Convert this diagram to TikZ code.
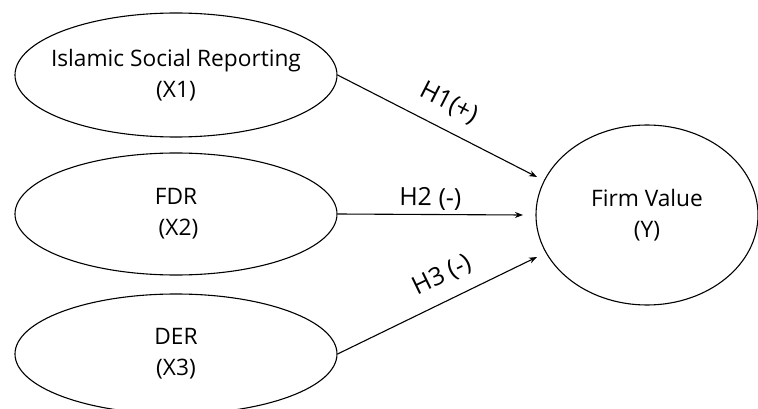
\documentclass[tikz,border=0pt]{standalone}
\usepackage{fontspec}
\setmainfont{Open Sans}
\usetikzlibrary{arrows.meta, positioning, shapes.geometric}

\begin{document}
\begin{tikzpicture}[x=1pt, y=-1pt,
    var/.style={draw, ellipse, line width=1.1pt, inner sep=0pt},
    vartext/.style={align=center, font=\fontsize{22.7}{31}\selectfont},
    hyp/.style={-{Stealth[length=8pt, width=6pt]}, line width=1.1pt},
    hyplabel/.style={font=\fontsize{25}{30}\selectfont, sloped, inner sep=4pt}]
    \useasboundingbox (0,0) rectangle (758,409);

    % Independent variables
    \node[var, minimum width=322pt, minimum height=124pt] (x1) at (176,75) {};
    \node[var, minimum width=322pt, minimum height=122pt] (x2) at (176,214) {};
    \node[var, minimum width=322pt, minimum height=120pt] (x3) at (176,354) {};
    \node[vartext] (x1txt) at (x1) {Islamic Social Reporting\\(X1)};
    \node[vartext] (x2txt) at (x2) {FDR\\\hspace*{5pt}(X2)};
    \node[vartext] (x3txt) at (x3) {DER\\(X3)};

    % Dependent variable
    \node[var, minimum width=222pt, minimum height=180pt] (y) at (647,215) {};
    \node[vartext] (ytxt) at (y) {Firm Value\\(Y)};

    % Arrow ends, short of the Y ellipse
    \coordinate (t1) at (537,177);
    \coordinate (t2) at (523,215);
    \coordinate (t3) at (537,257);

    % Hypotheses
    \draw[hyp] (x1.east) -- (t1) node[hyplabel, pos=0.5, above=10pt] {H1(+)};
    \draw[hyp] (x2.east) -- (t2) node[hyplabel, midway, above] {H2 (-)};
    \draw[hyp] (x3.east) -- (t3) node[hyplabel, pos=0.58, above=9pt] {H3 (-)};
\end{tikzpicture}
\end{document}
